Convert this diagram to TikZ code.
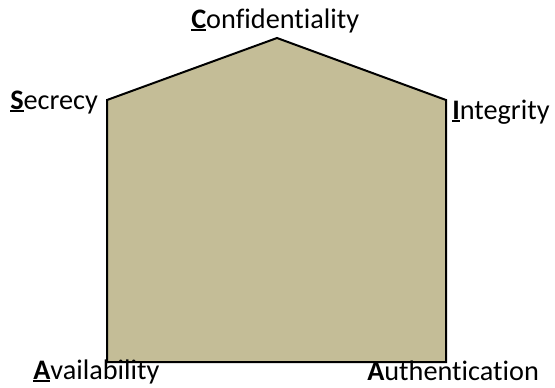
\documentclass[tikz,border=0pt]{standalone}
\usepackage{fontspec}
\setmainfont{Carlito}[Ligatures={NoCommon}]
\definecolor{housetan}{HTML}{C4BD97}
\newsavebox\klbox
\newcommand{\keyletter}[1]{\sbox\klbox{\textbf{#1}}\rlap{\rule[-2.6pt]{\wd\klbox}{1.6pt}}\usebox\klbox}
\tikzset{
  pillar/.style={anchor=base west, inner sep=0pt, font=\fontsize{21.2}{25}\selectfont},
  house/.style={draw=black, line width=1.5pt, fill=housetan, line join=miter}
}
\begin{document}
\begin{tikzpicture}[x=0.75pt, y=-0.75pt]
\useasboundingbox (0,0) rectangle (555,387);
\draw[house] (107,100) -- (277,38) -- (446,100) -- (446,362) -- (107,362) -- cycle;
\node[pillar] (conf) at (191,28) {\keyletter{C}onfidentiality};
\node[pillar] (secr) at (10,109) {\keyletter{S}ecrecy};
\node[pillar] (integ) at (452,119) {\keyletter{I}ntegrity};
\node[pillar] (avail) at (33,379) {\keyletter{A}vailability};
\node[pillar] (authn) at (367,380) {\textbf{A}uthentication};
\end{tikzpicture}
\end{document}
